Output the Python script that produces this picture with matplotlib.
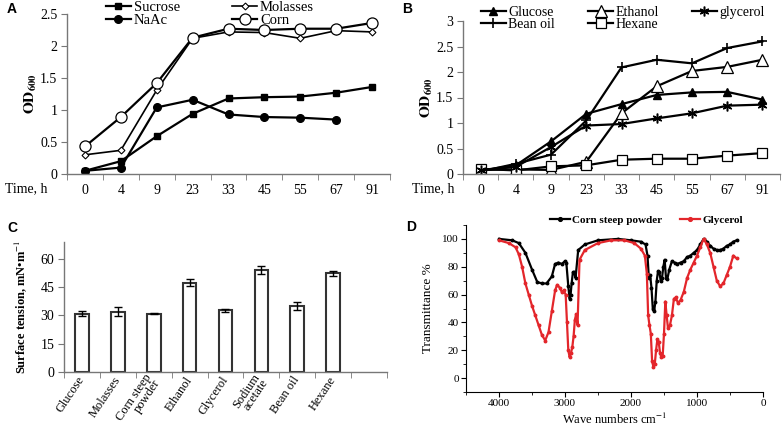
import numpy as np
import matplotlib.pyplot as plt

plt.rcParams['font.family'] = ['Liberation Serif', 'DejaVu Serif']
plt.rcParams['mathtext.fontset'] = 'stix'

# A / B: 培养时间 (h)
times = ['0', '4', '9', '23', '33', '45', '55', '67', '91']

# A
sucrose = [0.05, 0.20, 0.59, 0.94, 1.18, 1.20, 1.21, 1.27, 1.36]
molasses = [0.30, 0.37, 1.31, 2.12, 2.22, 2.21, 2.12, 2.24, 2.22]
naac = [0.05, 0.10, 1.04, 1.16, 0.93, 0.89, 0.88, 0.85]
corn = [0.43, 0.89, 1.42, 2.13, 2.27, 2.25, 2.27, 2.27, 2.36]

# B
glucose = [0.07, 0.17, 0.64, 1.18, 1.37, 1.55, 1.60, 1.61, 1.46]
ethanol = [0.08, 0.09, 0.08, 0.24, 1.19, 1.72, 2.02, 2.10, 2.24]
glycerol = [0.07, 0.14, 0.53, 0.95, 0.98, 1.09, 1.19, 1.34, 1.36]
bean_oil = [0.05, 0.20, 0.38, 1.05, 2.09, 2.24, 2.17, 2.47, 2.60]
hexane = [0.10, 0.07, 0.15, 0.17, 0.28, 0.30, 0.30, 0.36, 0.41]

# C
substrates = ['Glucose', 'Molasses', 'Corn steep\npowder', 'Ethanol', 'Glycerol',
              'Sodium\nacetate', 'Bean oil', 'Hexane']
tension = [31.0, 32.0, 31.0, 47.5, 32.8, 54.0, 35.0, 52.3]
tension_err = [1.2, 2.5, 0.3, 1.8, 0.8, 2.2, 2.0, 1.3]

# D: FTIR
wn_corn = [4000, 3800, 3700, 3600, 3500, 3420, 3350, 3280, 3200, 3150, 3100, 3050, 3000,
           2980, 2950, 2930, 2915, 2900, 2880, 2860, 2840, 2800, 2700, 2500, 2200, 2000,
           1850, 1780, 1750, 1730, 1710, 1690, 1670, 1650, 1630, 1610, 1590, 1570, 1550,
           1530, 1510, 1490, 1470, 1450, 1420, 1380, 1340, 1300, 1250, 1200, 1150, 1100,
           1050, 1000, 950, 900, 850, 800, 750, 700, 650, 600, 550, 500, 450, 400]
tr_corn = [100, 99, 97, 90, 78, 69, 68, 68, 73, 82, 83, 82, 84,
           83, 66, 57, 60, 68, 76, 76, 72, 92, 96, 99, 100, 99,
           98, 96, 88, 72, 74, 65, 50, 48, 55, 70, 77, 76, 70,
           72, 80, 85, 72, 71, 78, 84, 83, 82, 83, 84, 87, 88,
           90, 92, 96, 100, 98, 95, 93, 92, 92, 93, 95, 96, 98, 99]

wn_gly = [4000, 3850, 3750, 3700, 3650, 3600, 3550, 3500, 3450, 3400, 3350, 3300, 3250,
          3200, 3150, 3120, 3080, 3050, 3020, 2990, 2970, 2950, 2930, 2910, 2890, 2870,
          2850, 2830, 2810, 2780, 2700, 2500, 2300, 2100, 1950, 1850, 1790, 1760, 1740,
          1720, 1700, 1680, 1660, 1640, 1620, 1600, 1580, 1560, 1540, 1520, 1500, 1480,
          1460, 1440, 1410, 1380, 1350, 1320, 1290, 1250, 1200, 1150, 1100, 1050, 1000,
          950, 900, 850, 800, 750, 700, 650, 600, 550, 500, 450, 400]
tr_gly = [99, 97, 94, 89, 80, 68, 60, 52, 45, 38, 31, 27, 33,
          48, 63, 67, 65, 62, 63, 60, 40, 20, 15, 18, 22, 30,
          42, 46, 38, 85, 92, 97, 99, 99, 97, 93, 88, 75, 45,
          38, 32, 12, 8, 10, 20, 28, 26, 18, 15, 16, 32, 55,
          45, 36, 38, 45, 57, 58, 54, 56, 62, 72, 78, 83, 88,
          94, 100, 96, 90, 80, 70, 66, 68, 74, 80, 88, 86]

fig = plt.figure(figsize=(7.84, 4.28), dpi=100)
W, H = 784, 428


def px_axes(l, t, r, b):
    return fig.add_axes([l / W, 1 - b / H, (r - l) / W, (b - t) / H])


def fxy(px, py):
    return (px / W, 1 - py / H)


def excel_style(ax, n):
    for s in ['top', 'right']:
        ax.spines[s].set_visible(False)
    for s in ['left', 'bottom']:
        ax.spines[s].set_color('#777777')
        ax.spines[s].set_linewidth(1.0)
    ax.set_xlim(-0.5, n - 0.5)
    ax.set_xticks(np.arange(n))
    ax.set_xticks(np.arange(n + 1) - 0.5, minor=True)
    ax.tick_params(axis='x', which='major', length=0, pad=7, labelsize=10)
    ax.tick_params(axis='x', which='minor', length=4, color='#777777')
    ax.tick_params(axis='y', length=4, color='#777777', labelsize=10, pad=3)


x = np.arange(len(times))
od_label = r'$\mathbf{OD}_{\mathbf{600}}$'

# ---- A ----
axA = px_axes(67, 14, 390, 174)
excel_style(axA, len(times))
axA.plot(x, sucrose, color='black', lw=1.6, marker='s', ms=5, label='Sucrose')
axA.plot(x[:len(naac)], naac, color='black', lw=1.6, marker='o', ms=5.5, label='NaAc')
axA.plot(x, molasses, color='black', lw=1.2, marker='D', ms=3.5, mfc='white', mew=0.8, label='Molasses')
axA.plot(x, corn, color='black', lw=1.6, marker='o', ms=8, mfc='white', mew=0.9, label='Corn')
axA.set_ylim(0, 2.5)
axA.set_yticks([0, 0.5, 1, 1.5, 2, 2.5])
axA.set_yticklabels(['0', '0.5', '1', '1.5', '2', '2.5'])
axA.set_xticklabels(times)
axA.set_ylabel(od_label, fontsize=11, labelpad=1)
axA.legend(ncol=2, loc='upper left', bbox_to_anchor=fxy(106, 1), bbox_transform=fig.transFigure,
           frameon=False, fontsize=10.5, handlelength=1.7, columnspacing=3.6, labelspacing=-0.05,
           handletextpad=0.2, borderaxespad=0, borderpad=0)
fig.text(*fxy(5, 189), 'Time, h', fontsize=10, va='center')

# ---- B ----
axB = px_axes(463, 21, 780, 174)
excel_style(axB, len(times))
axB.plot(x, glucose, color='black', lw=1.6, marker='^', ms=5.5, label='Glucose')
axB.plot(x, bean_oil, color='black', lw=1.6, marker='+', ms=7, mew=1.2, label='Bean oil')
axB.plot(x, ethanol, color='black', lw=1.6, marker='^', ms=8, mfc='white', mew=0.9, label='Ethanol')
axB.plot(x, hexane, color='black', lw=1.6, marker='s', ms=7.5, mfc='white', mew=0.9, label='Hexane')
axB.plot(x, glycerol, color='black', lw=1.6, marker=(6, 2, 0), ms=7, mew=1.1, label='glycerol')
axB.set_ylim(0, 3)
axB.set_yticks([0, 0.5, 1, 1.5, 2, 2.5, 3])
axB.set_yticklabels(['0', '0.5', '1', '1.5', '2', '2.5', '3'])
axB.set_xticklabels(times)
axB.set_ylabel(od_label, fontsize=11, labelpad=1)
axB.legend(ncol=3, loc='upper left', bbox_to_anchor=fxy(481, 6), bbox_transform=fig.transFigure,
           frameon=False, fontsize=10, handlelength=1.8, columnspacing=2.4, labelspacing=-0.05,
           handletextpad=0.15, borderaxespad=0, borderpad=0)
fig.text(*fxy(412, 189), 'Time, h', fontsize=10, va='center')

# ---- C ----
axC = px_axes(64, 242, 387, 372)
nC = len(substrates) + 1
excel_style(axC, nC)
xc = np.arange(len(substrates))
axC.bar(xc, tension, width=0.38, color='white', edgecolor='#333333', linewidth=1.5)
axC.errorbar(xc, tension, yerr=tension_err, fmt='none', ecolor='black', elinewidth=1.0,
             capsize=3, capthick=1.0)
axC.set_ylim(0, 69)
axC.set_yticks([0, 15, 30, 45, 60])
axC.set_xticks(xc)
axC.set_xticklabels(substrates, rotation=56, ha='right', va='center', rotation_mode='anchor',
                    fontsize=9, linespacing=0.8)
axC.tick_params(axis='x', which='major', pad=4)
axC.set_ylabel('Surface tension, mN•m$^{-1}$', fontsize=9, fontweight='bold', labelpad=8)

# ---- D ----
axD = px_axes(466, 225, 763, 392)
red = '#e3262b'
axD.plot(wn_corn, tr_corn, color='black', lw=1.6, marker='o', ms=1.8, label='Corn steep powder')
axD.plot(wn_gly, tr_gly, color=red, lw=1.6, marker='o', ms=1.8, label='Glycerol')
axD.set_xlim(4500, 0)
axD.set_ylim(-10, 110)
axD.set_xticks([4000, 3000, 2000, 1000, 0])
axD.set_xticks(np.arange(4500, -1, -500), minor=True)
axD.set_yticks([0, 20, 40, 60, 80, 100])
axD.set_yticks(np.arange(-10, 111, 10), minor=True)
for s in ['top', 'right']:
    axD.spines[s].set_visible(False)
axD.tick_params(labelsize=8, length=3.5, pad=1.5)
axD.tick_params(which='minor', length=2)
axD.set_ylabel('Transmittance %', fontsize=9.5, labelpad=6)
axD.set_xlabel('Wave numbers cm$^{-1}$', fontsize=9, labelpad=3)
axD.legend(ncol=2, loc='center left', bbox_to_anchor=fxy(550, 220), bbox_transform=fig.transFigure,
           frameon=False, prop={'weight': 'bold', 'size': 8}, handlelength=1.8, columnspacing=1.6,
           handletextpad=0.2, borderaxespad=0, borderpad=0, markerscale=1.5)

# panel letters
for lab, px, py in [('A', 7, 9), ('B', 402, 9), ('C', 7, 228), ('D', 406, 227)]:
    fig.text(*fxy(px, py), lab, fontsize=10, fontweight='bold',
             family='Liberation Sans', va='center')

fig.savefig('out.png', dpi=100)
